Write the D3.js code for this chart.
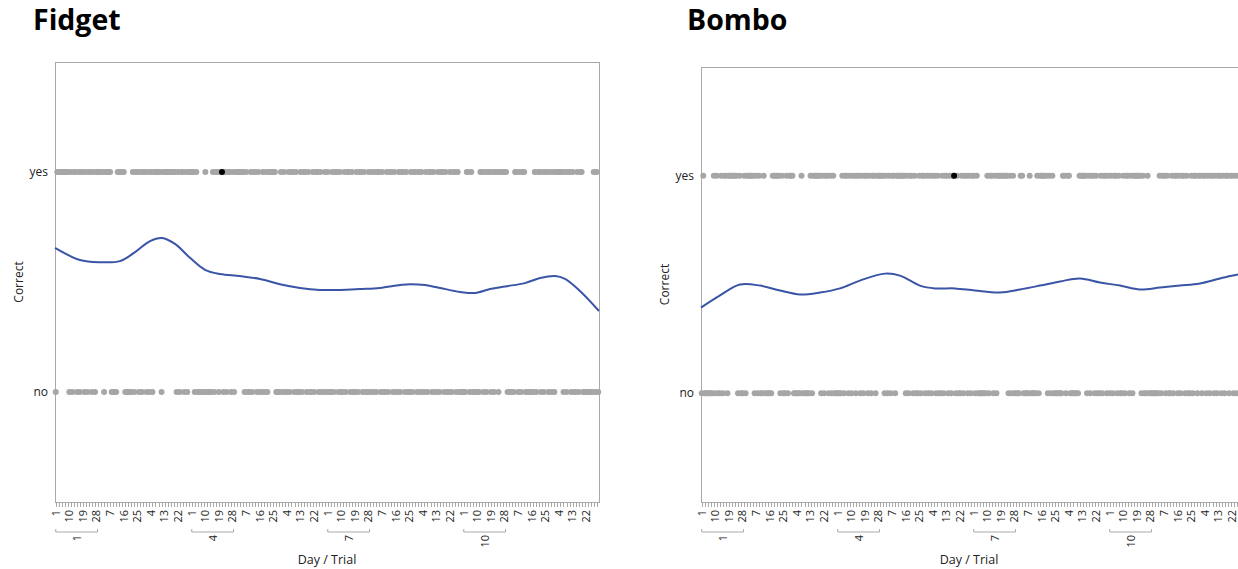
<!DOCTYPE html>
<html><head><meta charset="utf-8">
<script src="https://cdn.jsdelivr.net/npm/d3@7"></script>
<style>
html,body{margin:0;padding:0;background:#fff;overflow:hidden;}
text{font-family:"Open Sans","Noto Sans",sans-serif;}
</style></head>
<body><svg id="c" width="1238" height="569"></svg>
<script>
// ---------------- data ----------------
const days = [1,2,3,4,5,6,7,8,9,10,11,12];
const trialsPerDay = 30;
const dayTickLabels = [[1,10,19,28],[7,16,25],[4,13,22],[1,10,19,28],[7,16,25],[4,13,22],
                       [1,10,19,28],[7,16,25],[4,13,22],[1,10,19,28],[7,16,25],[4,13,22]];
const labeledDays = [1,4,7,10];
const yCategories = ["no","yes"];

// outcomes per day (1 = yes, 0 = no), one char per trial
const fidgetOutcomes = [
 "011111111010110101101011010111",
 "110111100001111100000101101011",
 "010101111101111111110101101011",
 "110100000100001011011010110101",
 "111110100101101001010111110001",
 "010010110100101101001011010010",
 "100101101001011010010110100101",
 "010110100101101001011010010110",
 "101001011010010110100101101000",
 "001101000001101011010110111110",
 "000011010110000001011010110101",
 "011111010110100101100000001010"
];
const fidgetHighlight = [4, 21];   // day, trial
const fidgetFitPos = [0,16.5,29.8,43,53,62.9,70.8,79.4,89.3,99.3,109.2,122.4,135.7,148.9,162.1,175.4,188.6,201.9,215,228.3,235,244.9,254.8,268,278,287.9,297.8,311,321,330.9,337.5,347.4,360];
const fidgetFitVal = [0.655,0.60,0.59,0.595,0.636,0.686,0.70,0.673,0.61,0.555,0.536,0.527,0.514,0.49,0.473,0.464,0.464,0.468,0.473,0.486,0.49,0.486,0.473,0.455,0.45,0.468,0.48,0.495,0.518,0.527,0.514,0.459,0.368];

const bomboOutcomes = [
 "010000001010010110111111010010",
 "111110101001000001111101001011",
 "100000100000101111101011010100",
 "000101101011011010110101101111",
 "101010110111111010110100101101",
 "010110100101101011010010110101",
 "101000000101101011111110101000",
 "011000010000101111101010000001",
 "101100000011111010110100101101",
 "010110100101101011111010010000",
 "000101101001011010110100101101",
 "101101011010110101101101011011"
];
const bomboHighlight = [6, 18];
const bomboFitPos = [0,12.6,25.8,39,52.3,65.5,78.8,92,105.2,121.8,131.7,144.9,154.9,168.1,181.3,197.9,211.1,224.4,237.6,250.8,264.1,277.3,290.5,303.8,317,330.2,343.5,355.4,360];
const bomboFitVal = [0.394,0.45,0.50,0.495,0.472,0.454,0.463,0.482,0.518,0.55,0.541,0.495,0.482,0.482,0.472,0.463,0.477,0.495,0.514,0.528,0.509,0.495,0.477,0.486,0.495,0.505,0.528,0.546,0.553];

// ---------------- drawing ----------------
const svg = d3.select("#c");
const gray = "#a6a6a6", frameCol = "#a9a9a9", lineCol = "#3a55a6";

function panel(cfg){
  const g = svg.append("g");
  const keys = [];
  days.forEach(d => { for(let t=1;t<=trialsPerDay;t++) keys.push(d+"/"+t); });
  const x = d3.scaleBand().domain(keys).range([cfg.left, cfg.right]).padding(0);
  const xl = d3.scaleLinear().domain([0, keys.length]).range([cfg.left, cfg.right]);
  const y = d3.scaleLinear().domain([-0.5, 1.5]).range([cfg.bottom, cfg.top]);
  const yPos = v => y(yCategories.indexOf(v));

  // title
  g.append("text").attr("x", cfg.titleX).attr("y", 30).text(cfg.title)
    .attr("font-size", 28.5).attr("font-weight", "bold").attr("fill", "#000");

  // frame
  g.append("rect").attr("x", cfg.left+0.5).attr("y", cfg.top+0.5)
    .attr("width", cfg.right-cfg.left).attr("height", cfg.bottom-cfg.top)
    .attr("fill", "none").attr("stroke", frameCol).attr("stroke-width", 1);

  // y labels
  yCategories.forEach(c => {
    g.append("text").attr("x", cfg.left-7).attr("y", yPos(c)).attr("dy", "0.35em")
      .attr("text-anchor", "end").attr("font-size", 12).attr("fill", "#222").text(c);
  });
  g.append("text").attr("transform", `translate(${cfg.left-32},${(cfg.top+cfg.bottom)/2}) rotate(-90)`)
    .attr("text-anchor", "middle").attr("font-size", 12).attr("fill", "#222").text("Correct");

  // x ticks
  const tickG = g.append("g");
  keys.forEach((k,i) => {
    if(i % 2 === 0){
      const xx = Math.round(x(k) + x.bandwidth()/2) + 0.5;
      tickG.append("line").attr("x1", xx).attr("x2", xx).attr("y1", cfg.bottom+1).attr("y2", cfg.bottom+5)
        .attr("stroke", frameCol).attr("stroke-width", 1);
    }
  });
  days.forEach((d,di) => {
    dayTickLabels[di].forEach(t => {
      const xx = x(d+"/"+t) + x.bandwidth()/2;
      g.append("text").attr("transform", `translate(${xx},${cfg.bottom+8}) rotate(-90)`)
        .attr("text-anchor", "end").attr("dy", "0.35em").attr("font-size", 11).attr("fill", "#222").text(t);
    });
    if(labeledDays.includes(d)){
      const lab = dayTickLabels[di];
      const x1 = x(d+"/"+lab[0]) + x.bandwidth()/2, x2 = x(d+"/"+lab[lab.length-1]) + x.bandwidth()/2 + 1;
      const by = cfg.bottom + 30;
      g.append("path").attr("d", `M${x1},${by-3}V${by}H${x2}V${by-3}`)
        .attr("fill", "none").attr("stroke", frameCol).attr("stroke-width", 1);
      g.append("text").attr("transform", `translate(${(x1+x2)/2},${by+3}) rotate(-90)`)
        .attr("text-anchor", "end").attr("dy", "0.35em").attr("font-size", 11).attr("fill", "#222").text(d);
    }
  });
  g.append("text").attr("x", (cfg.left+cfg.right)/2 + (cfg.axisTitleShift||0)).attr("y", cfg.bottom+62)
    .attr("text-anchor", "middle").attr("font-size", 12.5).attr("fill", "#222").text("Day / Trial");

  // points
  const pts = [];
  cfg.outcomes.forEach((s,di) => {
    for(let t=1;t<=s.length;t++) pts.push({key: days[di]+"/"+t, day: days[di], trial: t, v: s[t-1]==="1" ? "yes" : "no"});
  });
  g.append("g").selectAll("circle").data(pts).join("circle")
    .attr("cx", d => x(d.key) + x.bandwidth()/2).attr("cy", d => yPos(d.v))
    .attr("r", 3).attr("fill", gray);

  // fit line
  const fit = cfg.fitPos.map((p,i) => [p, cfg.fitVal[i]]);
  g.append("path").datum(fit)
    .attr("d", d3.line().x(d => xl(d[0])).y(d => y(d[1])).curve(d3.curveCatmullRom))
    .attr("fill", "none").attr("stroke", lineCol).attr("stroke-width", 2);

  // highlighted point
  const h = pts.find(p => p.day === cfg.highlight[0] && p.trial === cfg.highlight[1]);
  g.append("circle").attr("cx", x(h.key) + x.bandwidth()/2).attr("cy", yPos(h.v)).attr("r", 3).attr("fill", "#000");
}

panel({title:"Fidget", titleX:33, left:55, right:599, top:62, bottom:502,
       outcomes:fidgetOutcomes, fitPos:fidgetFitPos, fitVal:fidgetFitVal, highlight:fidgetHighlight});
panel({title:"Bombo", titleX:687, left:701, right:1245, top:67, bottom:502, axisTitleShift:-4,
       outcomes:bomboOutcomes, fitPos:bomboFitPos, fitVal:bomboFitVal, highlight:bomboHighlight});
</script></body></html>
